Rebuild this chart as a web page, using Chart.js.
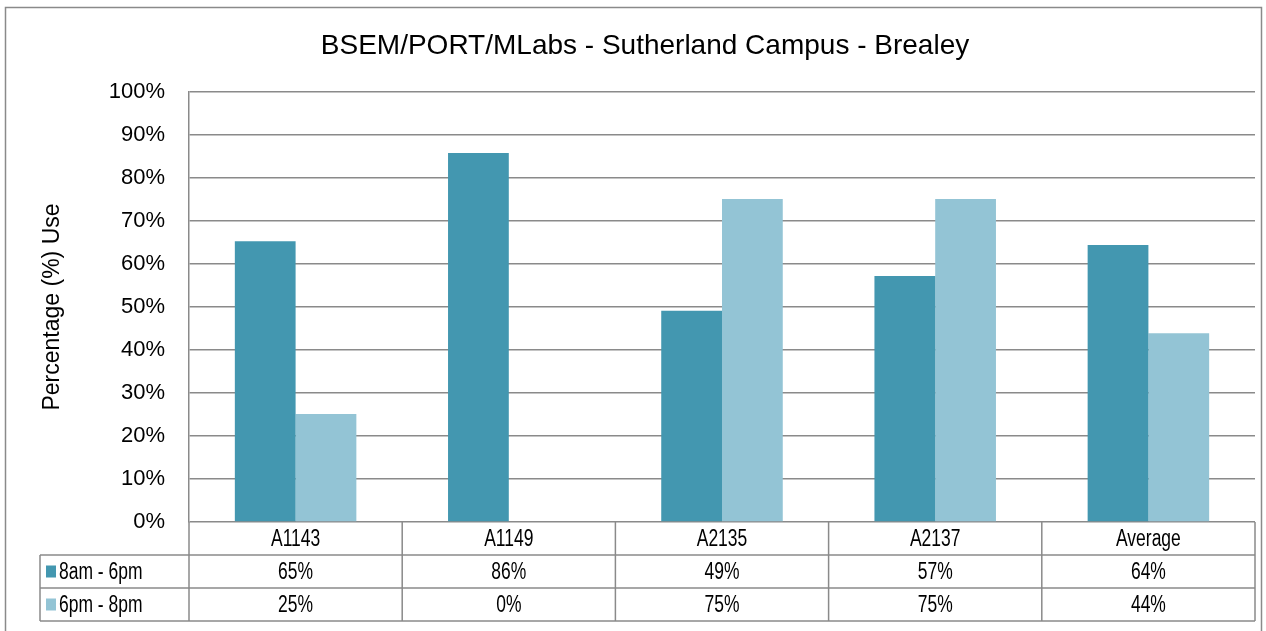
<!DOCTYPE html>
<html>
<head>
<meta charset="utf-8">
<script src="https://cdn.jsdelivr.net/npm/chart.js@4/dist/chart.umd.min.js"></script>
<style>
	html, body { margin: 0; padding: 0; background: #fff; overflow: hidden; }
	canvas { display: block; }
</style>
</head>
<body>
<canvas id="util-chart" width="1266" height="631"></canvas>
<script>
// Room usage data
const rooms = ['A1143', 'A1149', 'A2135', 'A2137', 'Average'];
const dayUse = [65.3, 85.8, 49.1, 57.2, 64.4];
const eveningUse = [25.1, 0, 75.1, 75.1, 43.9];
const seriesNames = ['8am - 6pm', '6pm - 8pm'];
const yTicks = [0, 10, 20, 30, 40, 50, 60, 70, 80, 90, 100];

const FONT = '"Liberation Sans", Arial, sans-serif';
const GRID = '#8a8a8a';
const colors = ['#4397b0', '#93c4d5'];

// table text is a condensed face in the original, squeeze it a bit
function narrowText(c, txt, px, py) {
	c.save();
	c.translate(px, py);
	c.scale(0.76, 1);
	c.fillText(txt, 0, 0);
	c.restore();
}

// frame + title + data table under the plot
const tablePlugin = {
	id: 'dataTable',
	beforeDraw: function (chart) {
		const c = chart.ctx;
		c.save();
		c.fillStyle = '#fff';
		c.fillRect(0, 0, chart.width, chart.height);
		c.strokeStyle = GRID;
		c.lineWidth = 1.5;
		c.strokeRect(5.5, 7.5, 1256, 640);
		c.restore();
	},
	afterDraw: function (chart) {
		const c = chart.ctx;
		const x = chart.scales.x;
		const area = chart.chartArea;
		const step = (area.right - area.left) / rooms.length;
		const rowH = 33;
		const top = area.bottom;
		const legLeft = 40;
		c.save();

		// title
		c.fillStyle = '#000';
		c.font = '28px ' + FONT;
		c.textAlign = 'center';
		c.textBaseline = 'middle';
		c.fillText('BSEM/PORT/MLabs - Sutherland Campus - Brealey', 645, 46);

		c.strokeStyle = GRID;
		c.lineWidth = 1.5;
		c.beginPath();
		// horizontal rules
		for (let r = 1; r <= 3; r++) {
			c.moveTo(legLeft, top + r * rowH);
			c.lineTo(area.right, top + r * rowH);
		}
		// vertical rules
		c.moveTo(legLeft, top + rowH);
		c.lineTo(legLeft, top + 3 * rowH);
		for (let i = 0; i <= rooms.length; i++) {
			const px = area.left + i * step;
			c.moveTo(px, top);
			c.lineTo(px, top + 3 * rowH);
		}
		c.stroke();

		c.fillStyle = '#000';
		c.font = '23px ' + FONT;
		c.textAlign = 'center';
		rooms.forEach(function (name, i) {
			const cx = x.getPixelForValue(i);
			narrowText(c, name, cx, top + rowH / 2 + 1);
			narrowText(c, Math.round(dayUse[i]) + '%', cx, top + rowH * 1.5 + 1);
			narrowText(c, Math.round(eveningUse[i]) + '%', cx, top + rowH * 2.5 + 1);
		});

		// legend keys in the first column
		c.textAlign = 'left';
		seriesNames.forEach(function (name, s) {
			const cy = top + rowH * (s + 1.5);
			c.fillStyle = colors[s];
			c.fillRect(46, cy - 6, 10, 12);
			c.fillStyle = '#000';
			narrowText(c, name, 59, cy + 1);
		});
		c.restore();
	}
};

new Chart(document.getElementById('util-chart'), {
	type: 'bar',
	data: {
		labels: rooms,
		datasets: [
			{ label: seriesNames[0], data: dayUse, backgroundColor: colors[0] },
			{ label: seriesNames[1], data: eveningUse, backgroundColor: colors[1] }
		]
	},
	options: {
		responsive: false,
		animation: false,
		layout: { padding: { top: 92, right: 11, bottom: 109, left: 0 } },
		datasets: { bar: { categoryPercentage: 0.57, barPercentage: 1 } },
		plugins: {
			legend: { display: false },
			title: { display: false },
			tooltip: { enabled: false }
		},
		scales: {
			x: { display: false },
			y: {
				min: 0,
				max: 100,
				afterBuildTicks: function (axis) {
					axis.ticks = yTicks.map(function (v) { return { value: v }; });
				},
				afterFit: function (axis) { axis.width = 189; },
				ticks: {
					padding: 24,
					color: '#000',
					font: { family: FONT, size: 22 },
					callback: function (v) { return v + '%'; }
				},
				grid: { color: GRID, lineWidth: 1.5, drawTicks: false },
				border: { color: GRID, width: 1.5 },
				title: {
					display: true,
					text: 'Percentage (%) Use',
					color: '#000',
					font: { family: FONT, size: 23 },
					padding: { top: 39, bottom: 0 }
				}
			}
		}
	},
	plugins: [tablePlugin]
});
</script>
</body>
</html>
